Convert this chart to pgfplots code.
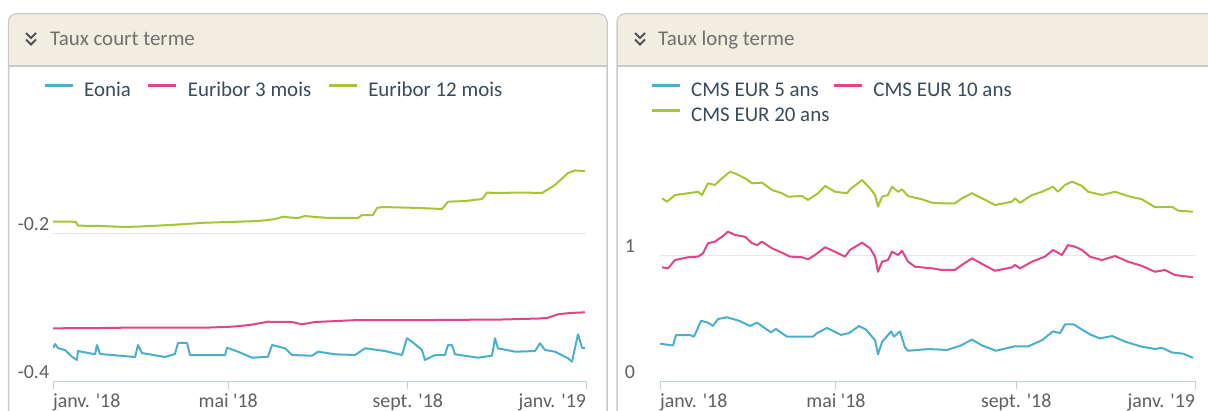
\documentclass[border=0pt]{standalone}
\usepackage{fontspec}
\setmainfont{Carlito}[Ligatures=TeXOff]
\usepackage{pgfplots}
\pgfplotsset{compat=1.18}
\definecolor{cblue}{HTML}{4AAFCB}
\definecolor{cpink}{HTML}{E0458A}
\definecolor{cgreen}{HTML}{A6C535}
\definecolor{axisc}{HTML}{C0D0E0}
\definecolor{gridc}{HTML}{E6E6E6}
\definecolor{headbg}{HTML}{F1EDE1}
\definecolor{framec}{HTML}{C9C9C9}
\definecolor{titlec}{HTML}{707070}
\definecolor{tickc}{HTML}{606060}
\definecolor{legc}{HTML}{3A4A5A}
\definecolor{iconc}{HTML}{505050}

\pgfplotsset{
 panel/.style={
  scale only axis, anchor=south west,
  xmin=0, xmax=365,
  axis x line*=bottom, axis y line*=left,
  y axis line style={draw=none},
  x axis line style={draw=axisc, line width=1bp, -},
  xtick={0,120,243,365},
  xticklabels={\makebox[0pt][l]{janv. '18}, mai '18, sept. '18, \makebox[0pt][r]{janv. '19}},
  xtick align=outside,
  xtick style={draw=axisc, line width=1bp},
  major tick length=8bp,
  ytick style={draw=none},
  ymajorgrids, grid style={draw=gridc, line width=1bp},
  tick label style={font=\fontsize{20}{24}\selectfont, text=tickc},
  yticklabel style={anchor=east, text width=32bp, align=left, inner sep=0pt, xshift=-3bp, yshift=9bp},
  xticklabel style={anchor=base, inner sep=0pt, yshift=-18bp},
  legend cell align=left,
  legend style={draw=none, fill=none, font=\fontsize{21}{24}\selectfont, text=legc,
    anchor=north west, inner sep=0pt, row sep=6bp,
    nodes={inner sep=0pt, text height=14bp, text depth=5bp},
    /tikz/every odd column/.append style={column sep=10bp},
    /tikz/every even column/.append style={column sep=16bp}},
  legend image code/.code={\draw[#1, line width=3bp] (0bp,6bp) -- (28bp,6bp);},
  every axis plot/.append style={line width=2bp, line join=round, mark=none},
 }
}

\begin{document}
\begin{tikzpicture}[x=1bp,y=1bp]
\useasboundingbox (0,0) rectangle (1208,410);
\clip (0,0) rectangle (1208,410);

% ---- left panel frame
\draw[framec, line width=1.5bp, fill=white, rounded corners=8bp] (8.5,-30) -- (8.5,396) -- (607,396) -- (607,-30);
\fill[headbg] (9.25,344) {[rounded corners=7bp] -- (9.25,395.25) -- (606.25,395.25)} -- (606.25,344) -- cycle;
\draw[framec, line width=1.2bp] (8.5,344) -- (607,344);
\draw[iconc, line width=2bp] (26,377) -- (31,372) -- (36,377);
\draw[iconc, line width=2bp] (26,370.5) -- (31,365.5) -- (36,370.5);
\node[anchor=base west, inner sep=0pt, text=titlec, font=\fontsize{21}{24}\selectfont] at (50,365) {Taux court terme};

% ---- right panel frame
\draw[framec, line width=1.5bp, fill=white, rounded corners=8bp] (617,-30) -- (617,396) -- (1230,396) -- (1230,-30);
\fill[headbg] (617.75,344) {[rounded corners=7bp] -- (617.75,395.25) -- (1229,395.25)} -- (1229,344) -- cycle;
\draw[framec, line width=1.2bp] (617,344) -- (1230,344);
\draw[iconc, line width=2bp] (635,377) -- (640,372) -- (645,377);
\draw[iconc, line width=2bp] (635,370.5) -- (640,365.5) -- (645,370.5);
\node[anchor=base west, inner sep=0pt, text=titlec, font=\fontsize{21}{24}\selectfont] at (658,365) {Taux long terme};

% ---- left axis
\begin{axis}[panel, at={(53bp,29bp)}, width=533bp, height=222bp,
  ymin=-0.4, ymax=-0.1, ytick={-0.4,-0.2}, yticklabels={-0.4,-0.2},
  legend columns=3,
  legend style={at={(-0.0188,1.3468)}},
  legend entries={Eonia, Euribor 3 mois, Euribor 12 mois}]
\addplot[cblue] coordinates {
(0,-0.3554)(1.4,-0.3500)(3.4,-0.3554)(8.2,-0.3581)(13.0,-0.3672)(16.4,-0.3716)(17.1,-0.3595)
(28.8,-0.3639)(30.1,-0.3514)(32.2,-0.3635)(40.4,-0.3649)(56.2,-0.3676)(58.2,-0.3514)(60.9,-0.3622)
(76.7,-0.3676)(83.5,-0.3635)(85.6,-0.3486)(91.8,-0.3486)(93.8,-0.3649)(108.9,-0.3649)(117.8,-0.3649)
(119.2,-0.3550)(126.7,-0.3604)(136.3,-0.3685)(147.2,-0.3672)(150.0,-0.3514)(158.9,-0.3558)(163.7,-0.3649)
(177.4,-0.3658)(181.5,-0.3604)(193.1,-0.3639)(206.8,-0.3649)(213.7,-0.3558)(227.4,-0.3595)(239.0,-0.3649)
(242.4,-0.3423)(245.8,-0.3469)(252.7,-0.3581)(254.7,-0.3716)(261.6,-0.3649)(268.4,-0.3649)(270.5,-0.3514)
(273.2,-0.3514)(275.3,-0.3639)(291.0,-0.3685)(300.6,-0.3658)(302.7,-0.3423)(304.7,-0.3558)(316.4,-0.3604)
(330.1,-0.3595)(333.5,-0.3491)(336.9,-0.3581)(343.8,-0.3604)(352.7,-0.3693)(355.4,-0.3739)(359.5,-0.3369)
(362.3,-0.3550)(364.3,-0.3558)};
\addplot[cpink] coordinates {
(0,-0.3288)(32.2,-0.3284)(59.6,-0.3277)(85.6,-0.3280)(107.5,-0.3277)(122.6,-0.3266)(134.9,-0.3243)
(147.2,-0.3199)(163.7,-0.3203)(170.5,-0.3234)(179.4,-0.3203)(208.9,-0.3176)(259.5,-0.3176)(307.5,-0.3169)
(333.5,-0.3155)(339.0,-0.3145)(345.8,-0.3099)(354.0,-0.3081)(364.3,-0.3072)};
\addplot[cgreen] coordinates {
(0,-0.1847)(11.6,-0.1845)(15.8,-0.1851)(17.1,-0.1901)(32.2,-0.1905)(49.3,-0.1919)(59.6,-0.1912)
(80.1,-0.1892)(104.1,-0.1861)(121.2,-0.1851)(140.4,-0.1838)(147.2,-0.1824)(152.0,-0.1811)(157.5,-0.1780)
(162.3,-0.1791)(167.8,-0.1797)(172.6,-0.1770)(179.4,-0.1784)(189.7,-0.1797)(208.9,-0.1797)(211.6,-0.1757)
(219.1,-0.1757)(221.9,-0.1662)(225.3,-0.1649)(237.6,-0.1655)(251.3,-0.1662)(266.4,-0.1676)(270.5,-0.1577)
(282.1,-0.1568)(293.8,-0.1541)(297.2,-0.1455)(306.1,-0.1459)(319.8,-0.1453)(334.9,-0.1459)(343.8,-0.1351)
(352.7,-0.1189)(357.5,-0.1155)(364.3,-0.1162)};
\end{axis}

% ---- right axis
\begin{axis}[panel, at={(660bp,29bp)}, width=535bp, height=226.8bp,
  ymin=0, ymax=1.8, ytick={0,1}, yticklabels={0,1},
  legend columns=2,
  legend style={at={(-0.0187,1.3183)},
    /tikz/every even column/.append style={column sep=3bp}},
  legend entries={CMS EUR 5 ans, CMS EUR 10 ans, CMS EUR 20 ans}]
\addplot[cblue] coordinates {
(0,0.296)(8.9,0.282)(10.9,0.365)(20.5,0.365)(23.2,0.352)(28.0,0.478)(32.7,0.463)(36.1,0.437)
(39.6,0.492)(45.7,0.506)(53.9,0.478)(61.4,0.437)(66.2,0.463)(75.7,0.386)(79.1,0.413)(86.6,0.352)
(104.4,0.352)(107.1,0.380)(113.9,0.421)(123.5,0.366)(128.9,0.380)(135.8,0.436)(140.5,0.408)(146.7,0.324)
(148.7,0.212)(151.5,0.310)(157.6,0.394)(159.6,0.352)(163.7,0.394)(167.1,0.268)(169.2,0.240)(183.5,0.254)
(195.8,0.246)(205.3,0.282)(212.8,0.329)(219.7,0.282)(229.2,0.240)(241.5,0.274)(251.0,0.274)(260.6,0.324)
(268.1,0.394)(272.9,0.380)(276.3,0.449)(282.4,0.449)(287.2,0.413)(294.0,0.366)(300.2,0.338)(308.4,0.357)
(317.9,0.310)(328.1,0.274)(337.7,0.254)(342.5,0.263)(349.3,0.226)(356.8,0.217)(363.6,0.184)};
\addplot[cpink] coordinates {
(1.4,0.902)(5.5,0.894)(10.2,0.960)(19.1,0.982)(25.9,0.987)(29.3,1.013)(32.7,1.093)(37.5,1.106)
(42.3,1.145)(46.4,1.185)(51.2,1.159)(58.0,1.145)(62.8,1.093)(66.2,1.079)(69.6,1.106)(76.4,1.053)
(83.2,1.018)(88.7,0.987)(96.9,0.982)(101.0,0.966)(105.7,1.000)(112.6,1.061)(119.4,1.026)(126.2,0.987)
(129.6,1.040)(137.8,1.098)(143.3,1.053)(146.7,0.987)(148.7,0.867)(151.5,0.947)(155.5,0.960)(158.3,1.026)
(162.4,1.000)(165.1,1.034)(169.2,0.947)(174.0,0.907)(185.6,0.894)(192.4,0.881)(201.2,0.881)(206.0,0.921)
(212.8,0.974)(219.7,0.929)(228.5,0.875)(240.1,0.902)(242.2,0.921)(245.6,0.894)(253.8,0.947)(262.6,0.987)
(268.1,1.040)(274.2,1.000)(278.3,1.079)(283.1,1.066)(287.9,1.040)(293.3,0.987)(301.5,0.960)(310.4,0.992)
(319.3,0.947)(328.8,0.913)(337.7,0.867)(344.5,0.881)(351.3,0.841)(363.6,0.823)};
\addplot[cgreen] coordinates {
(1.4,1.450)(4.8,1.423)(10.2,1.476)(19.1,1.490)(25.9,1.502)(28.7,1.476)(32.7,1.569)(37.5,1.556)
(42.3,1.609)(47.8,1.661)(51.2,1.648)(58.0,1.609)(62.8,1.569)(69.6,1.574)(76.4,1.516)(83.2,1.490)
(87.3,1.463)(96.9,1.468)(101.0,1.437)(107.8,1.490)(112.6,1.548)(119.4,1.502)(127.6,1.490)(129.6,1.521)
(137.8,1.595)(143.3,1.529)(146.7,1.476)(148.7,1.383)(151.5,1.463)(155.5,1.476)(158.3,1.542)(162.4,1.502)
(165.1,1.521)(169.2,1.468)(178.7,1.442)(185.6,1.415)(192.4,1.410)(201.2,1.410)(206.0,1.450)(212.8,1.490)
(219.7,1.450)(228.5,1.397)(240.1,1.423)(242.2,1.450)(245.6,1.415)(253.8,1.476)(260.6,1.502)(268.1,1.542)
(271.5,1.502)(276.3,1.556)(281.1,1.582)(287.9,1.548)(292.0,1.502)(301.5,1.476)(310.4,1.502)(319.3,1.468)
(328.8,1.442)(337.7,1.379)(349.3,1.383)(353.4,1.352)(363.6,1.344)};
\end{axis}
\end{tikzpicture}
\end{document}
